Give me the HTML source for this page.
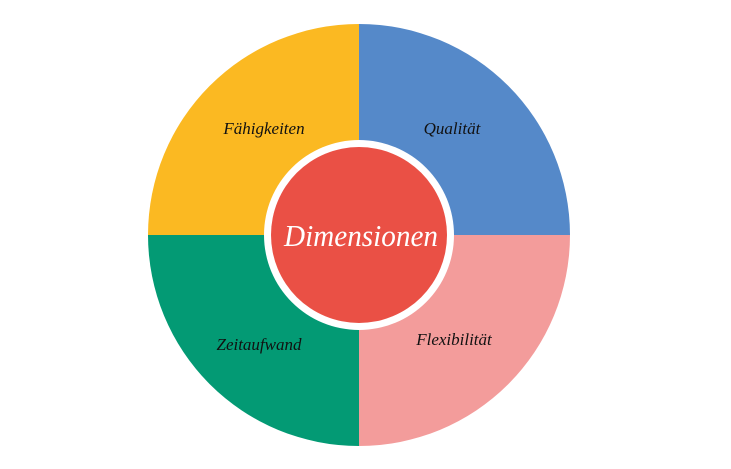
<!DOCTYPE html>
<html><head><meta charset="utf-8"><style>
html,body{margin:0;padding:0;background:#fff;width:731px;height:469px;overflow:hidden}
</style></head><body>
<svg width="731" height="469" viewBox="0 0 731 469" xmlns="http://www.w3.org/2000/svg">
<path d="M359,235 L359,24 A211,211 0 0 1 570,235 Z" fill="#5589C9"/>
<path d="M359,235 L570,235 A211,211 0 0 1 359,446 Z" fill="#F39C9B"/>
<path d="M359,235 L359,446 A211,211 0 0 1 148,235 Z" fill="#039A74"/>
<path d="M359,235 L148,235 A211,211 0 0 1 359,24 Z" fill="#FBB922"/>
<circle cx="359" cy="235" r="95" fill="#fff"/>
<circle cx="359" cy="235" r="88" fill="#EA5045"/>
<g font-family="Liberation Serif, serif" font-style="italic" fill="#111" font-size="17" text-anchor="middle">
<text x="264" y="134">Fähigkeiten</text>
<text x="452" y="134">Qualität</text>
<text x="259" y="350">Zeitaufwand</text>
<text x="454" y="345">Flexibilität</text>
</g>
<text x="284" y="246" font-family="Liberation Serif, serif" font-style="italic" font-size="31" fill="#fff" textLength="154" lengthAdjust="spacingAndGlyphs">Dimensionen</text>
</svg>
</body></html>
